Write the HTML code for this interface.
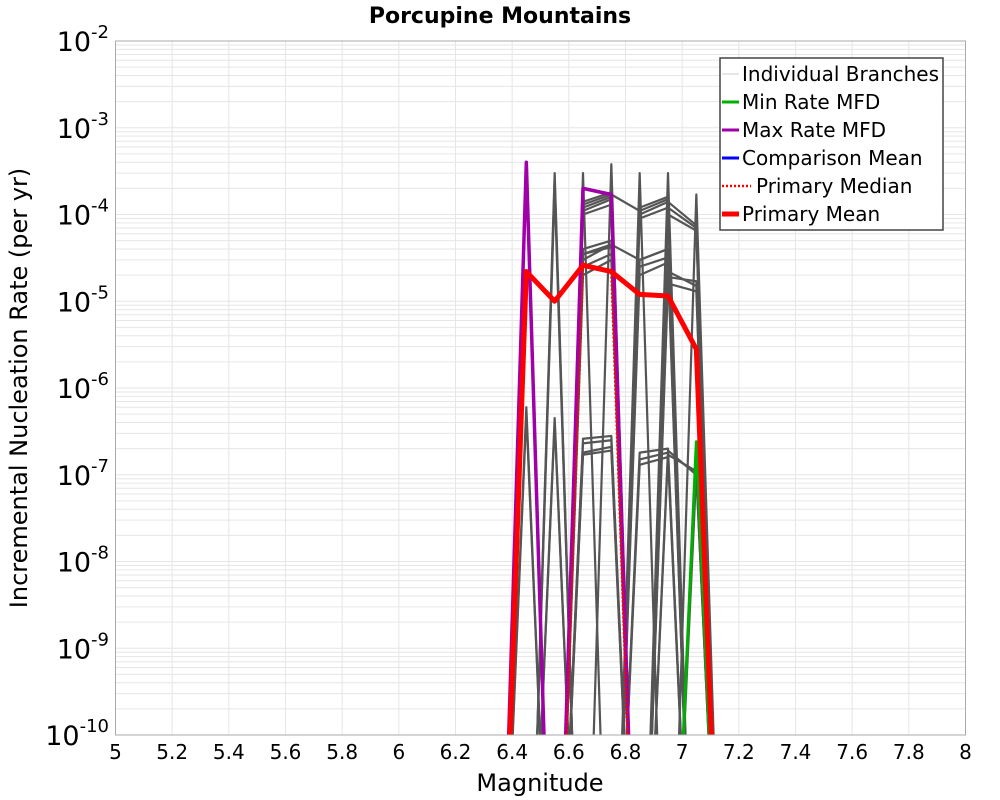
<!DOCTYPE html>
<html><head><meta charset="utf-8"><style>
html,body{margin:0;padding:0;background:#fff;overflow:hidden;width:1000px;height:800px;}
svg{display:block;}
svg text{font-family:"DejaVu Sans","Liberation Sans",sans-serif;}
</style></head><body>
<svg id="chart" width="1000" height="800" xmlns="http://www.w3.org/2000/svg">
<rect width="1000" height="800" fill="#fff"/>
<text x="500" y="23" text-anchor="middle" font-size="22" font-weight="bold">Porcupine Mountains</text>
<g id="grid"></g>
<g id="ticks"></g>
<defs><clipPath id="pc"><rect x="115.5" y="41" width="850" height="694"/></clipPath></defs>
<g id="series" clip-path="url(#pc)"></g>
<rect x="115.5" y="41" width="850" height="694" fill="none" stroke="#aaa" stroke-width="1"/>
<text x="540" y="791" text-anchor="middle" font-size="24">Magnitude</text>
<text transform="translate(27,388) rotate(-90)" text-anchor="middle" font-size="24">Incremental Nucleation Rate (per yr)</text>
<g>
<rect x="720" y="58" width="223" height="172" fill="#fff" stroke="#444" stroke-width="1.5"/>
<line x1="722" y1="74" x2="739" y2="74" stroke="#ccc" stroke-width="1"/>
<text x="742" y="81" font-size="20">Individual Branches</text>
<line x1="722" y1="102" x2="739" y2="102" stroke="#00b000" stroke-width="3"/>
<text x="742" y="109" font-size="20">Min Rate MFD</text>
<line x1="722" y1="130" x2="739" y2="130" stroke="#a000a8" stroke-width="3"/>
<text x="742" y="137" font-size="20">Max Rate MFD</text>
<line x1="722" y1="158" x2="739" y2="158" stroke="#0000ff" stroke-width="3"/>
<text x="742" y="165" font-size="20">Comparison Mean</text>
<line x1="722" y1="186" x2="751" y2="186" stroke="#f00" stroke-width="2.5" stroke-dasharray="2,2"/>
<text x="756" y="193" font-size="20">Primary Median</text>
<line x1="722" y1="214" x2="739" y2="214" stroke="#f00" stroke-width="5"/>
<text x="742" y="221" font-size="20">Primary Mean</text>
</g>
</svg>
<script>
const bins=[6.35,6.45,6.55,6.65,6.75,6.85,6.95,7.05,7.15];
const xTicks=["5","5.2","5.4","5.6","5.8","6","6.2","6.4","6.6","6.8","7","7.2","7.4","7.6","7.8","8"];
const yExps=[-2,-3,-4,-5,-6,-7,-8,-9,-10];
const branches=[
[0,4e-4,0,0,0,0,0,0,0],[0,3.5e-4,0,0,0,0,0,0,0],[0,3e-4,0,0,0,0,0,0,0],[0,6e-7,0,0,0,0,0,0,0],[0,5e-7,0,0,0,0,0,0,0],
[0,0,3e-4,0,0,0,0,0,0],[0,0,2.5e-4,0,0,0,0,0,0],[0,0,2e-4,0,0,0,0,0,0],[0,0,4.5e-7,0,0,0,0,0,0],[0,0,4e-7,0,0,0,0,0,0],
[0,0,0,3e-4,0,0,0,0,0],[0,0,0,0,3.8e-4,0,0,0,0],
[0,0,0,1.2e-4,1.6e-4,0,0,0,0],[0,0,0,1.4e-4,1.8e-4,0,0,0,0],[0,0,0,1.0e-4,1.3e-4,0,0,0,0],[0,0,0,1.1e-4,1.5e-4,0,0,0,0],
[0,0,0,4e-5,5e-5,0,0,0,0],[0,0,0,3e-5,4.5e-5,0,0,0,0],[0,0,0,2.5e-5,3.5e-5,0,0,0,0],[0,0,0,2e-5,3e-5,0,0,0,0],[0,0,0,3.5e-5,4.2e-5,0,0,0,0],
[0,0,0,2.6e-7,2.8e-7,0,0,0,0],[0,0,0,2.3e-7,2.5e-7,0,0,0,0],[0,0,0,1.8e-7,2.1e-7,0,0,0,0],[0,0,0,1.7e-7,1.9e-7,0,0,0,0],
[0,0,0,1.3e-4,1.7e-4,1.1e-4,1.5e-4,0,0],[0,0,0,3.5e-5,4.5e-5,3e-5,4e-5,0,0],
[0,0,0,0,0,3e-4,0,0,0],[0,0,0,0,0,0,3e-4,0,0],[0,0,0,0,0,1e-4,1.4e-4,0,0],[0,0,0,0,0,1.2e-4,1.6e-4,0,0],[0,0,0,0,0,9e-5,1.2e-4,0,0],[0,0,0,0,0,3e-5,4e-5,0,0],
[0,0,0,0,0,2.5e-5,3.2e-5,0,0],[0,0,0,0,0,2e-5,2.8e-5,0,0],[0,0,0,0,0,1.8e-7,2e-7,0,0],[0,0,0,0,0,1.3e-7,1.6e-7,0,0],[0,0,0,0,0,1.5e-7,1.8e-7,0,0],
[0,0,0,0,0,0,1.2e-4,7e-5,0],[0,0,0,0,0,0,1.4e-4,7.5e-5,0],[0,0,0,0,0,0,1e-4,6.5e-5,0],[0,0,0,0,0,0,2.2e-5,1.5e-5,0],[0,0,0,0,0,0,1.6e-5,1.3e-5,0],[0,0,0,0,0,0,1.9e-5,1.7e-5,0],
[0,0,0,0,0,0,1.9e-7,1e-7,0],[0,0,0,0,0,0,1.7e-7,1.1e-7,0],[0,0,0,0,0,0,0,1.7e-4,0],[0,0,0,0,0,0,0,1.1e-7,0]
];
const minRate=[0,0,0,0,0,0,0,2.4e-7,0];
const maxRate=[0,4e-4,0,2e-4,1.7e-4,0,0,0,0];
const median=[0,0,0,2.6e-5,2.2e-5,0,0,0,0];
const mean=[0,2.2e-5,1e-5,2.6e-5,2.2e-5,1.2e-5,1.15e-5,2.8e-6,0];
const X0=115.5,X1=965.5,Y0=41,Y1=735;
const xs=m=>X0+(m-5)/3*(X1-X0);
const ys=v=>{const l=v>0?Math.log10(v):-14;return Y0+(-2-l)/8*(Y1-Y0);};
const NS="http://www.w3.org/2000/svg";
function mk(tag,attrs,parent){const e=document.createElementNS(NS,tag);for(const k in attrs)e.setAttribute(k,attrs[k]);parent.appendChild(e);return e;}
const grid=document.getElementById('grid'),ticks=document.getElementById('ticks'),ser=document.getElementById('series');
for(let d=-10;d<-2;d++){for(let k=1;k<10;k++){const y=ys(k*Math.pow(10,d));const l=mk('line',{x1:X0,x2:X1,y1:y,y2:y,stroke:'#e6e6e6','stroke-width':1},grid);

}}
xTicks.forEach(t=>{const x=xs(parseFloat(t));const l=mk('line',{x1:x,x2:x,y1:Y0,y2:Y1,stroke:'#e6e6e6','stroke-width':1},grid);


const tx=mk('text',{x:x,y:759,'text-anchor':'middle','font-size':20},ticks);tx.textContent=t;

});
yExps.forEach(e=>{const y=ys(Math.pow(10,e));const tx=mk('text',{x:109,y:y+10,'text-anchor':'end','font-size':27},ticks);


tx.innerHTML='10<tspan dy="-13" font-size="18">'+e+'</tspan>';});
function line(vals,attrs,name){const pts=vals.map((v,i)=>xs(bins[i]).toFixed(2)+','+ys(v).toFixed(2)).join(' ');const p=mk('polyline',Object.assign({points:pts,fill:'none','stroke-linejoin':'round'},attrs),ser);

}
branches.forEach(b=>line(b,{stroke:'#555','stroke-width':2.2},'branch-line'));
line(minRate,{stroke:'#00b000','stroke-width':3},'min-rate-line');
line(maxRate,{stroke:'#a000a8','stroke-width':3.5},'max-rate-line');
line(median,{stroke:'#f00','stroke-width':2.5,'stroke-dasharray':'2,2'},'median-line');
line(mean,{stroke:'#f00','stroke-width':5},'mean-line');
</script>
</body></html>
